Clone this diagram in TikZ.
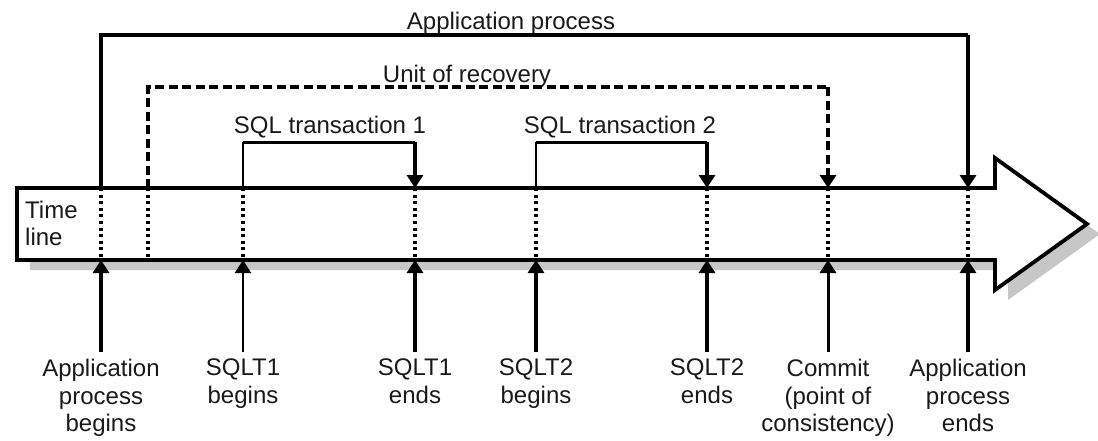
\documentclass[tikz,border=0pt]{standalone}
\usepackage{fontspec}
\setmainfont{Liberation Sans}
\usetikzlibrary{arrows.meta}

\begin{document}
\begin{tikzpicture}[x=1pt,y=-1pt,
  heavy/.style={line width=3.8pt},
  medium/.style={line width=3pt},
  light/.style={line width=2.1pt},
  urdash/.style={line width=3.2pt, dash pattern=on 9pt off 4.5pt},
  dotline/.style={line width=3.2pt, dash pattern=on 3pt off 3.6pt},
  downtip/.style={-{Triangle[width=16pt,length=13pt]}},
  lbl/.style={font=\fontsize{24}{27.5}\selectfont, text=black!90, align=center, inner sep=0pt},
  toplbl/.style={font=\fontsize{24}{27.5}\selectfont, text=black!90, inner sep=0pt, anchor=base},
  line join=miter]
\useasboundingbox (0,0) rectangle (1098,440);

% the time line arrow with its shadow
\fill[black!22, shift={(13,10)}]
  (17,188) -- (995,188) -- (995,158) -- (1087,224) -- (995,290) -- (995,260) -- (17,260) -- cycle;
\draw[heavy, fill=white]
  (17,188) -- (995,188) -- (995,158) -- (1087,224) -- (995,290) -- (995,260) -- (17,260) -- cycle;
\node[lbl, align=left, anchor=north west] (tl) at (25,200.5) {Time\\line};

% event positions on the upper and lower edge of the time line
\foreach \n/\x in {ab/101, ur/148, sb1/243, se1/415, sb2/536, se2/707, cm/828, ae/968}{
  \coordinate (\n-t) at (\x,188);
  \coordinate (\n-b) at (\x,260);
  \draw[dotline] (\n-t) -- (\n-b);
}

% spans above the time line
\node[toplbl] (ap) at (511,29) {Application process};
\coordinate (ap-l) at (101,35);
\coordinate (ap-r) at (968,35);
\draw[heavy] (ab-t) -- (ap-l) -- (ap-r);
\draw[heavy, downtip] (ap-r) -- (ae-t);

\node[toplbl] (uor) at (467,82) {Unit of recovery};
\coordinate (ur-l) at (148,87);
\coordinate (ur-r) at (828,87);
\draw[urdash] (ur-t) -- (ur-l) -- (ur-r);
\draw[urdash, downtip] (ur-r) -- (cm-t);

\node[toplbl] (tx1) at (330,133) {SQL transaction 1};
\coordinate (tx1-l) at (243,142);
\coordinate (tx1-r) at (415,142);
\draw[light] (sb1-t) -- (tx1-l);
\draw[medium] (tx1-l) -- (tx1-r);
\draw[heavy, downtip] (tx1-r) -- (se1-t);

\node[toplbl] (tx2) at (620,133) {SQL transaction 2};
\coordinate (tx2-l) at (536,142);
\coordinate (tx2-r) at (707,142);
\draw[light] (sb2-t) -- (tx2-l);
\draw[medium] (tx2-l) -- (tx2-r);
\draw[heavy, downtip] (tx2-r) -- (se2-t);

% events below the time line
\node[lbl, anchor=north] (l-ab)  at (101,359) {Application\\process\\begins};
\node[lbl, anchor=north] (l-sb1) at (243,359) {SQLT1\\begins};
\node[lbl, anchor=north] (l-se1) at (415,359) {SQLT1\\ends};
\node[lbl, anchor=north] (l-sb2) at (536,359) {SQLT2\\begins};
\node[lbl, anchor=north] (l-se2) at (707,359) {SQLT2\\ends};
\node[lbl, anchor=north] (l-cm)  at (828,359) {Commit\\(point of\\consistency)};
\node[lbl, anchor=north] (l-ae)  at (968,359) {Application\\process\\ends};

\draw[heavy, downtip, shorten <=7pt] (l-ab.north)  -- (ab-b);
\draw[light, downtip, shorten <=7pt] (l-sb1.north) -- (sb1-b);
\draw[heavy, downtip, shorten <=7pt] (l-se1.north) -- (se1-b);
\draw[heavy, downtip, shorten <=7pt] (l-sb2.north) -- (sb2-b);
\draw[heavy, downtip, shorten <=7pt] (l-se2.north) -- (se2-b);
\draw[medium, downtip, shorten <=7pt] (l-cm.north) -- (cm-b);
\draw[heavy, downtip, shorten <=7pt] (l-ae.north)  -- (ae-b);
\end{tikzpicture}
\end{document}
